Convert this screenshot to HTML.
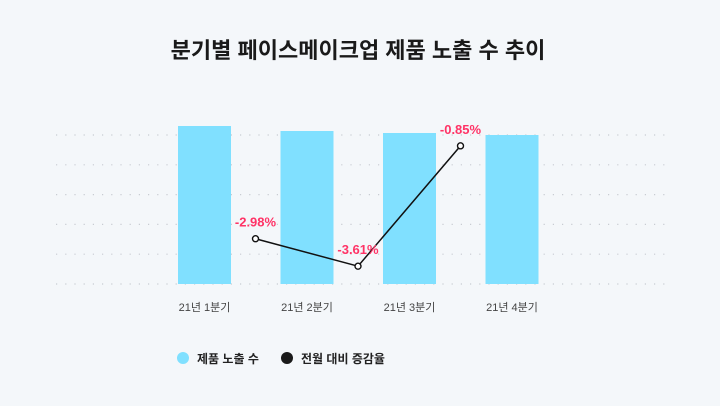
<!DOCTYPE html>
<html><head><meta charset="utf-8"><style>
html,body{margin:0;padding:0;background:#f4f7fa;}
svg{display:block;font-family:"Liberation Sans","Noto Sans CJK KR",sans-serif;}
</style></head><body>
<svg id="c" width="720" height="406">
<rect width="720" height="406" fill="#f4f7fa"/>
<text x="358" y="58" text-anchor="middle" font-size="22" font-weight="bold" fill="#1a1a1a">분기별 페이스메이크업 제품 노출 수 추이</text>
<g id="grid"></g><g id="bars"></g><g id="line"></g><g id="xl"></g>
<g>
<circle cx="183" cy="358" r="6" fill="#80e0ff"/>
<text x="197" y="363" font-size="12" font-weight="bold" fill="#222">제품 노출 수</text>
<circle cx="287" cy="358" r="6" fill="#1a1a1a"/>
<text x="301" y="363" font-size="12" font-weight="bold" fill="#222">전월 대비 증감율</text>
</g>
</svg>
<script>
const categories=["21년 1분기","21년 2분기","21년 3분기","21년 4분기"];
const exposure=[158,153,151,149];
const changeCats=[1,2,3];
const changeVals=[-2.98,-3.61,-0.85];
const changeLabels=["-2.98%","-3.61%","-0.85%"];
const NS="http://www.w3.org/2000/svg";
function mk(t,a,p){const e=document.createElementNS(NS,t);for(const k in a)e.setAttribute(k,a[k]);p.appendChild(e);return e;}
const base=284,step=102.5,x0=178,bw=53;
function xBand(i){return x0+i*step;}
function yBar(v){return base-v;}
function yLine(v){return 108.8-v*43.6;}
const grid=document.getElementById('grid');
for(let k=0;k<6;k++){const y=135+k*29.8;
const l=mk('line',{x1:56,x2:668,y1:y,y2:y,stroke:'#c8ccd2','stroke-width':1.2,'stroke-dasharray':'1.2 8'},grid);

}
const bars=document.getElementById('bars'),xl=document.getElementById('xl');
categories.forEach((c,i)=>{
const r=mk('rect',{x:xBand(i),y:yBar(exposure[i]),width:bw,height:base-yBar(exposure[i]),fill:'#80e0ff'},bars);


const t=mk('text',{x:xBand(i)+bw/2,y:311,'text-anchor':'middle','font-size':11,fill:'#444'},xl);t.textContent=c;


});
const lg=document.getElementById('line');
const pts=changeVals.map((v,j)=>[xBand(changeCats[j])-25,yLine(v)]);
const pl=mk('polyline',{points:pts.map(p=>p.join(',')).join(' '),fill:'none',stroke:'#111','stroke-width':1.5},lg);


pts.forEach((p,j)=>{
const c=mk('circle',{cx:p[0],cy:p[1],r:3,fill:'#fff',stroke:'#111','stroke-width':1.4},lg);


const t=mk('text',{x:p[0],y:p[1]-12,'text-anchor':'middle','font-size':13,'font-weight':'bold',fill:'#ff3366'},lg);
t.textContent=changeLabels[j];


});
</script>
</body></html>
